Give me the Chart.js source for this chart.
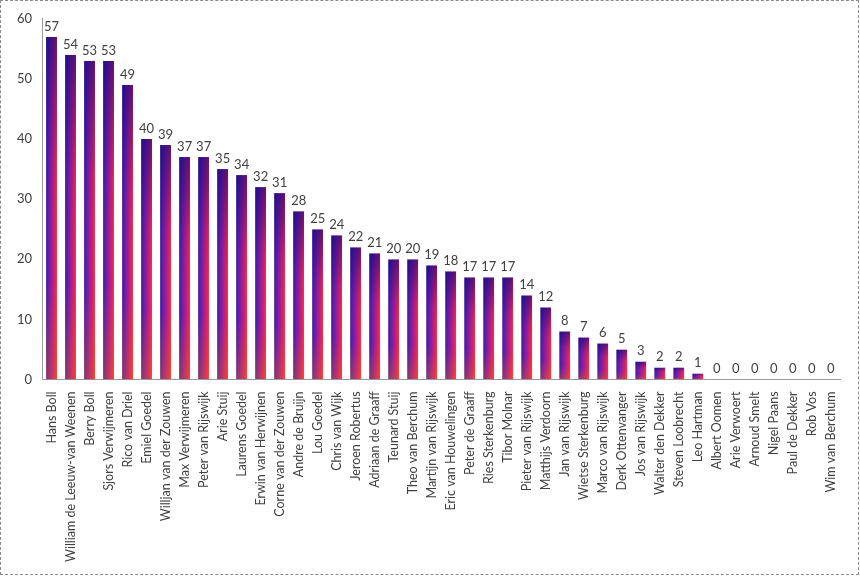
<!DOCTYPE html>
<html>
<head>
<meta charset="utf-8">
<script src="https://cdn.jsdelivr.net/npm/chart.js@4"></script>
<style>
  html, body { margin: 0; padding: 0; background: #fff; }
  #frame {
    position: absolute; left: 0; top: 0;
    width: 857px; height: 573px;
    border: 1px dashed #8a8a8a;
    background: #fff;
  }
  #canvas { display: block; }
</style>
</head>
<body>
<div id="frame"><canvas id="canvas" width="857" height="573"></canvas></div>
<script>
  const players = [
    'Hans Boll', 'William de Leeuw-van Weenen', 'Berry Boll', 'Sjors Verwijmeren',
    'Rico van Driel', 'Emiel Goedel', 'Willjan van der Zouwen', 'Max Verwijmeren',
    'Peter van Rijswijk', 'Arie Stuij', 'Laurens Goedel', 'Erwin van Herwijnen',
    'Corne van der Zouwen', 'Andre de Bruijn', 'Lou Goedel', 'Chris van Wijk',
    'Jeroen Robertus', 'Adriaan de Graaff', 'Teunard Stuij', 'Theo van Berchum',
    'Martijn van Rijswijk', 'Eric van Houwelingen', 'Peter de Graaff', 'Ries Sterkenburg',
    'Tibor Molnar', 'Pieter van Rijswijk', 'Matthijs Verdoorn', 'Jan van Rijswijk',
    'Wietse Sterkenburg', 'Marco van Rijswijk', 'Derk Ottenvanger', 'Jos van Rijswijk',
    'Walter den Dekker', 'Steven Loobrecht', 'Leo Hartman', 'Albert Oomen',
    'Arie Verwoert', 'Arnoud Smelt', 'Nigel Paans', 'Paul de Dekker', 'Rob Vos',
    'Wim van Berchum'
  ];
  const goals = [
    57, 54, 53, 53, 49, 40, 39, 37, 37, 35, 34, 32, 31, 28, 25, 24, 22, 21, 20, 20,
    19, 18, 17, 17, 17, 14, 12, 8, 7, 6, 5, 3, 2, 2, 1, 0, 0, 0, 0, 0, 0, 0
  ];
  const yMin = 0;
  const yMax = 60;
  const yStep = 10;

  const barPct = 0.6;
  const textColor = '#404040';
  const font = 'Lato, "Open Sans", sans-serif';

  // each bar gets its own little gradient: blue on the left, red on the right,
  // darker towards the top and warmer towards the bottom
  const fillCache = {};
  function barFill(ctx) {
    const chart = ctx.chart;
    if (!chart.chartArea || ctx.type !== 'data') return '#6a1aa0';
    const xs = chart.scales.x;
    const ys = chart.scales.y;
    const w = Math.max(1, Math.round(xs.width / players.length * barPct));
    const left = xs.getPixelForValue(ctx.dataIndex) - w / 2;
    const top = ys.getPixelForValue(ctx.raw);
    const h = Math.max(1, Math.round(ys.getPixelForValue(0) - top));
    const key = ctx.dataIndex + ':' + w + ':' + h + ':' + left + ':' + top;
    if (fillCache[key]) return fillCache[key];

    const off = document.createElement('canvas');
    off.width = w;
    off.height = h;
    const o = off.getContext('2d');
    const hz = o.createLinearGradient(0, 0, w, 0);
    hz.addColorStop(0, '#3c1aa8');
    hz.addColorStop(0.45, '#8c1ea4');
    hz.addColorStop(0.85, '#e8205e');
    hz.addColorStop(1, '#ff3a40');
    o.fillStyle = hz;
    o.fillRect(0, 0, w, h);
    const v = o.createLinearGradient(0, 0, 0, h);
    v.addColorStop(0, 'rgba(20,8,120,0.65)');
    v.addColorStop(0.35, 'rgba(20,8,120,0.1)');
    v.addColorStop(0.7, 'rgba(255,90,0,0)');
    v.addColorStop(1, 'rgba(255,110,0,0.35)');
    o.fillStyle = v;
    o.fillRect(0, 0, w, h);

    const pat = chart.ctx.createPattern(off, 'no-repeat');
    pat.setTransform(new DOMMatrix().translate(left, top));
    fillCache[key] = pat;
    return pat;
  }

  const valueLabels = {
    id: 'valueLabels',
    afterDatasetsDraw(chart) {
      const c = chart.ctx;
      const meta = chart.getDatasetMeta(0);
      c.save();
      c.font = '13px ' + font;
      c.fillStyle = textColor;
      c.textAlign = 'center';
      c.textBaseline = 'bottom';
      meta.data.forEach((bar, i) => {
        c.fillText(String(goals[i]), bar.x, bar.y - 4);
      });
      c.restore();
    }
  };

  const config = {
    type: 'bar',
    data: {
      labels: players,
      datasets: [
        {
          label: 'Goals',
          data: goals,
          backgroundColor: barFill,
          borderWidth: 0,
          categoryPercentage: barPct,
          barPercentage: 1,
        },
      ],
    },
    options: {
      responsive: false,
      animation: false,
      layout: {
        padding: { left: 6, right: 12, top: 1, bottom: 0 },
      },
      plugins: {
        legend: { display: false },
        tooltip: { enabled: false },
      },
      scales: {
        x: {
          grid: { display: false, drawTicks: false },
          border: { display: true, color: '#9a9a9a', dash: [1, 1] },
          ticks: {
            color: textColor,
            font: { family: font, size: 12.5 },
            minRotation: 90,
            maxRotation: 90,
            autoSkip: false,
            padding: 12,
          },
        },
        y: {
          min: yMin,
          max: yMax,
          grid: { display: false, drawTicks: false },
          border: { display: true, color: '#9a9a9a', dash: [1, 1] },
          ticks: {
            stepSize: yStep,
            color: textColor,
            font: { family: font, size: 13 },
            padding: 10,
          },
        },
      },
    },
    plugins: [valueLabels],
  };

  const ctx = document.getElementById('canvas').getContext('2d');
  window.myBar = new Chart(ctx, config);
</script>
</body>
</html>
